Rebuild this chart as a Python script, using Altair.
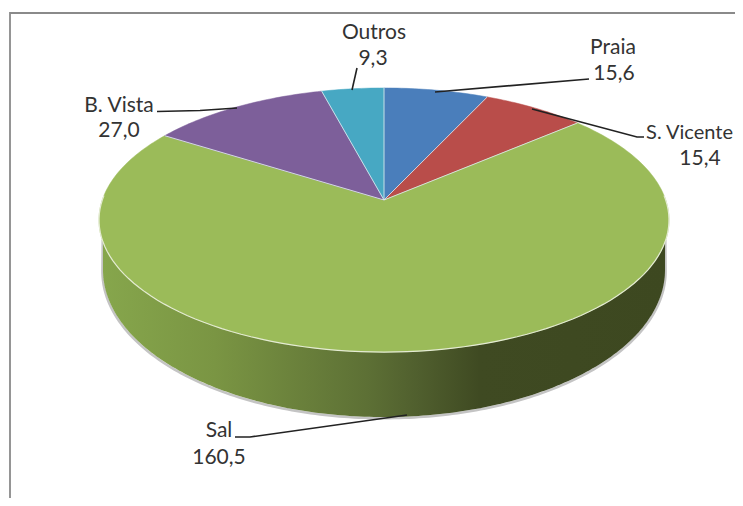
import math
import altair as alt
import pandas as pd

# ---- chart values ----
categories = ["Praia", "S. Vicente", "Sal", "B. Vista", "Outros"]
values = [15.6, 15.4, 160.5, 27.0, 9.3]
slice_colors = ["#4a7ebb", "#b94d4a", "#9bbb59", "#7d5f9a", "#47a8c3"]

# ---- layout (screen geometry of the tilted disc) ----
APEX_X, APEX_Y = 384, 200
A, B, K = 281.7, 129.0, 0.1515
WALL_CX, WALL_CY, WALL_RX, WALL_RY = 384, 270, 281, 147
FONT = "Lato"
FONT_SIZE = 21
TEXT_COLOR = "#333333"

label_x = [613, 733, 219, 119, 374]
label_y = [47.5, 132.5, 431, 105.5, 32.5]
label_align = ["center", "right", "center", "center", "center"]
label_size = [FONT_SIZE, 20, FONT_SIZE, FONT_SIZE, FONT_SIZE]
value_x = [614, 700, 219, 119, 373]
value_y = [74, 158.5, 458, 131, 58.5]
leader_x = [[589, 435], [644, 637, 532], [235, 250, 407], [157, 200, 237], [357, 352]]
leader_y = [[79, 92], [137, 137, 109], [437, 437, 415], [111.5, 110.5, 108], [68, 90]]


def rim(theta_deg):
    t = math.radians(theta_deg)
    u, v = math.sin(t), math.cos(t)
    w = 1 + K * v
    return APEX_X + A * u / w, APEX_Y - B * v / w


total = sum(values)
bounds = [0.0]
for val in values:
    bounds.append(bounds[-1] + val / total * 360)

X = alt.X("x:Q", scale=alt.Scale(domain=[8, 735], range=[0, 727], nice=False, zero=False), axis=None)
Y = alt.Y("y:Q", scale=alt.Scale(domain=[498, 8], range=[490, 0], nice=False, zero=False), axis=None)

layers = []

# frame
frame = pd.DataFrame({"x": [10, 10, 735], "y": [498, 13, 13], "i": [0, 1, 2]})
layers.append(alt.Chart(frame).mark_line(color="#8a8a8a", strokeWidth=1.8).encode(x=X, y=Y, order="i:Q"))

# wall
wall_x = [WALL_CX - WALL_RX * math.cos(math.radians(i)) for i in range(0, 181)]
wall_y2 = [WALL_CY + WALL_RY * math.sin(math.radians(i)) for i in range(0, 181)]
wall = pd.DataFrame({"x": wall_x, "y": [228] * 181, "y2": wall_y2})
shadow = pd.DataFrame({
    "x": [wall_x[0] - 0.3] + [v + (0.6 if v > 384 else -0.6) for v in wall_x] + [wall_x[-1] + 0.3],
    "y": [240] + [v + 1.2 for v in wall_y2] + [240],
    "i": list(range(183)),
})
layers.append(alt.Chart(shadow).mark_line(color="#c4c4c4", strokeWidth=2.5).encode(x=X, y=Y, order="i:Q"))
gradient = alt.Gradient(
    gradient="linear", x1=0, x2=1, y1=0, y2=0,
    stops=[
        alt.GradientStop(offset=0.0, color="#86a64c"),
        alt.GradientStop(offset=0.2, color="#7a9543"),
        alt.GradientStop(offset=0.47, color="#5d7035"),
        alt.GradientStop(offset=0.56, color="#505f2e"),
        alt.GradientStop(offset=0.67, color="#3f4a22"),
        alt.GradientStop(offset=1.0, color="#3d4820"),
    ],
)
layers.append(alt.Chart(wall).mark_area(color=gradient).encode(x=X, y=Y, y2="y2:Q"))

# top slices
for idx, name in enumerate(categories):
    lo, hi = bounds[idx], bounds[idx + 1]
    n = max(2, int(hi - lo))
    pts = [(APEX_X, APEX_Y)] + [rim(lo + (hi - lo) * j / n) for j in range(n + 1)] + [(APEX_X, APEX_Y)]
    d = pd.DataFrame({"x": [p[0] for p in pts], "y": [p[1] for p in pts], "i": list(range(len(pts)))})
    layers.append(
        alt.Chart(d).mark_line(fill=slice_colors[idx], stroke=slice_colors[idx], strokeWidth=0.5)
        .encode(x=X, y=Y, order="i:Q")
    )

# light edges: spokes and the front rim
for b in bounds[:-1]:
    px, py = rim(b)
    d = pd.DataFrame({"x": [APEX_X, px], "y": [APEX_Y, py], "i": [0, 1]})
    layers.append(alt.Chart(d).mark_line(color="#dfe7ee", strokeWidth=1, opacity=0.85).encode(x=X, y=Y, order="i:Q"))
front = [rim(a) for a in range(88, 273, 2)]
d = pd.DataFrame({"x": [p[0] for p in front], "y": [p[1] for p in front], "i": list(range(len(front)))})
layers.append(alt.Chart(d).mark_line(color="#e4ebd3", strokeWidth=1.2).encode(x=X, y=Y, order="i:Q"))

# leaders
rows = []
for name, xs, ys in zip(categories, leader_x, leader_y):
    for i, (a, b) in enumerate(zip(xs, ys)):
        rows.append({"name": name, "x": a, "y": b, "i": i})
layers.append(
    alt.Chart(pd.DataFrame(rows)).mark_line(color="#222222", strokeWidth=1.6)
    .encode(x=X, y=Y, detail="name:N", order="i:Q")
)

# labels
for i, name in enumerate(categories):
    one = pd.DataFrame({"t": [name], "x": [label_x[i]], "y": [label_y[i]]})
    layers.append(
        alt.Chart(one).mark_text(font=FONT, fontSize=label_size[i], color=TEXT_COLOR, align=label_align[i], baseline="middle")
        .encode(x=X, y=Y, text="t:N")
    )
vals = pd.DataFrame({"t": [f"{v:.1f}".replace(".", ",") for v in values], "x": value_x, "y": value_y})
layers.append(
    alt.Chart(vals).mark_text(font=FONT, fontSize=FONT_SIZE, color=TEXT_COLOR, align="center", baseline="middle")
    .encode(x=X, y=Y, text="t:N")
)

chart = (
    alt.layer(*layers)
    .properties(width=727, height=490, padding=0, autosize=alt.AutoSizeParams(type="none"), background="white")
    .configure_view(stroke=None)
)
chart.save("out.html", embed_options={"renderer": "svg", "actions": False})
